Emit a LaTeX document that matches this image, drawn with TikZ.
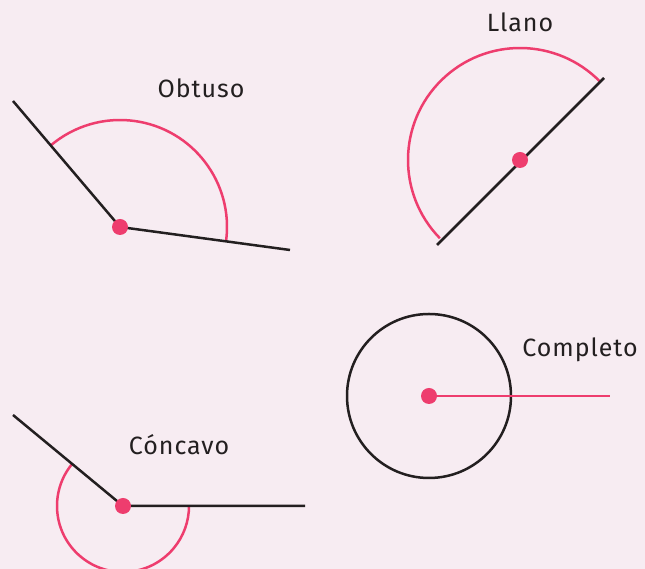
\documentclass[tikz,border=0pt]{standalone}
\usepackage{fontspec}
\setmainfont{Fira Sans}
\definecolor{bgc}{HTML}{F7ECF2}
\definecolor{pinkc}{HTML}{EE3D6E}
\definecolor{inkc}{HTML}{231F20}
\begin{document}
\begin{tikzpicture}[x=1pt,y=1pt,
  ray/.style={draw=inkc,line width=2.5pt},
  arcl/.style={draw=pinkc,line width=2.5pt},
  vdot/.style={circle,fill=pinkc,inner sep=0pt,minimum size=16pt},
  lbl/.style={text=inkc,font=\fontsize{25}{30}\selectfont\addfontfeature{LetterSpace=4},inner sep=0pt}]
\fill[bgc] (0,0) rectangle (645,569);
\useasboundingbox (0,0) rectangle (645,569);
\clip (0,0) rectangle (645,569);
% Obtuso
\coordinate (o) at (120,342);
\coordinate (o1) at (13,468);
\coordinate (o2) at (290,319);
\draw[arcl] (o) ++(-7.7:107) arc[start angle=-7.7,end angle=130.3,radius=107];
\draw[ray] (o1) -- (o) -- (o2);
\node[vdot] (od) at (o) {};
\node[lbl] (ol) at (201,481) {Obtuso};
% Llano
\coordinate (l) at (520,409);
\coordinate (l1) at (437,324);
\coordinate (l2) at (604,491);
\draw[arcl] (l) ++(44.3:112) arc[start angle=44.3,end angle=224.3,radius=112];
\draw[ray] (l1) -- (l2);
\node[vdot] (ld) at (l) {};
\node[lbl] (ll) at (520,547) {Llano};
% Concavo
\coordinate (c) at (123,63);
\coordinate (c1) at (13,154);
\coordinate (c2) at (305,63);
\draw[arcl] (c) ++(140.4:66) arc[start angle=140.4,end angle=360,radius=66];
\draw[ray] (c1) -- (c) -- (c2);
\node[vdot] (cd) at (c) {};
\node[lbl] (cl) at (179,124) {Cóncavo};
% Completo
\coordinate (p) at (429,173);
\coordinate (p1) at (610,173);
\draw[ray] (p) circle[radius=82];
\draw[arcl] (p) -- (p1);
\node[vdot] (pd) at (p) {};
\node[lbl] (pl) at (580,219) {Completo};
\end{tikzpicture}
\end{document}
